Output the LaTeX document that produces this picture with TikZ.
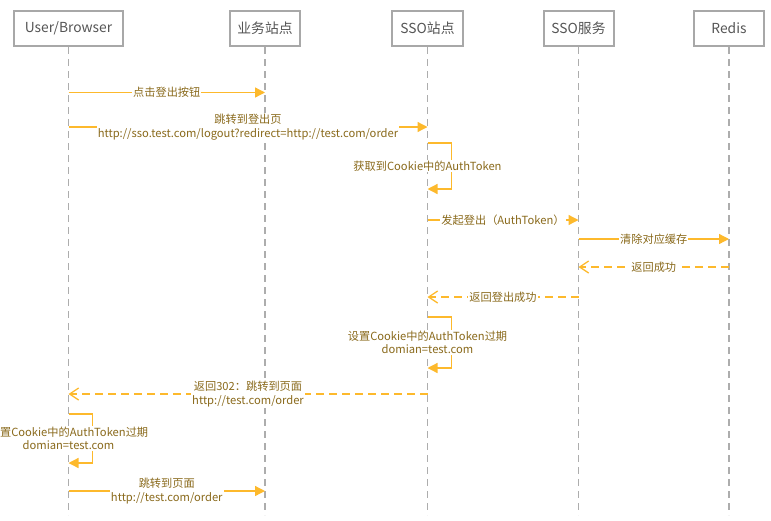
\documentclass[tikz,border=0pt]{standalone}
\usepackage{fontspec}
\setmainfont{Noto Sans CJK SC}
\usetikzlibrary{arrows.meta}
\definecolor{cmsg}{HTML}{FDB92C}
\definecolor{ctxt}{HTML}{8A6A1C}
\definecolor{cbox}{HTML}{A8A8A8}
\definecolor{clif}{HTML}{ADADAD}
\definecolor{chd}{HTML}{555555}
\tikzset{>={Triangle[length=10pt, width=10pt]},
    hd/.style={draw=cbox, line width=2pt, fill=white, text=chd, minimum height=35pt, inner sep=0pt, font=\fontsize{13.8}{16}\selectfont},
    lf/.style={draw=clif, line width=1.2pt, dash pattern=on 7pt off 5pt},
    msg/.style={draw=cmsg, line width=1.3pt, ->},
    ret/.style={draw=cmsg, line width=1.3pt, dash pattern=on 8pt off 5pt, -{Straight Barb[length=9pt, width=12pt]}},
    lbl/.style={fill=white, text=ctxt, inner sep=1pt, align=center, font=\fontsize{11.2}{13.4}\selectfont}}

\begin{document}
\begin{tikzpicture}[x=1pt, y=-1pt]
    \useasboundingbox (0, 0) rectangle (771, 520);
    \node[hd, minimum width=109pt](ub) at (68.5, 28.5){User/Browser};
    \node[hd, minimum width=70pt](ws) at (265, 28.5){业务站点};
    \node[hd, minimum width=71pt](ss) at (427.5, 28.5){SSO站点};
    \node[hd, minimum width=70pt](sv) at (578.5, 28.5){SSO服务};
    \node[hd, minimum width=70pt](rd) at (729, 28.5){Redis};
    \coordinate (bot) at (0, 515);
    \foreach \n in {ub, ws, ss, sv, rd}
        \draw[lf](\n.south)--(\n.south |- bot);
    \foreach \i/\y in {1/92.5, 2/127, 3a/143, 3b/189, 4/220, 5/239, 6/267, 7/297, 8a/317, 8b/368, 9/394, 10a/414, 10b/463, 11/491}
        \coordinate (m\i) at (0, \y);
    \draw[msg](ub |- m1)--(ws |- m1)node[lbl, midway]{点击登出按钮};
    \draw[msg](ub |- m2)--(ss |- m2)node[lbl, midway]{跳转到登出页\\http://sso.test.com/logout?redirect=http://test.com/order};
    \draw[msg](ss |- m3a)--++(24, 0)|-(ss |- m3b);
    \path(ss |- m3a)--(ss |- m3b)node[lbl, midway]{获取到Cookie中的AuthToken};
    \draw[msg](ss |- m4)--(sv |- m4)node[lbl, midway]{发起登出（AuthToken）};
    \draw[msg](sv |- m5)--(rd |- m5)node[lbl, midway]{清除对应缓存};
    \draw[ret](rd |- m6)--(sv |- m6)node[lbl, midway]{返回成功};
    \draw[ret](sv |- m7)--(ss |- m7)node[lbl, midway]{返回登出成功};
    \draw[msg](ss |- m8a)--++(24, 0)|-(ss |- m8b);
    \path(ss |- m8a)--(ss |- m8b)node[lbl, midway]{设置Cookie中的AuthToken过期\\domian=test.com};
    \draw[ret](ss |- m9)--(ub |- m9)node[lbl, midway]{返回302：跳转到页面\\http://test.com/order};
    \draw[msg](ub |- m10a)--++(24, 0)|-(ub |- m10b);
    \path(ub |- m10a)--(ub |- m10b)node[lbl, midway]{设置Cookie中的AuthToken过期\\domian=test.com};
    \draw[msg](ub |- m11)--(ws |- m11)node[lbl, midway]{跳转到页面\\http://test.com/order};
\end{tikzpicture}
\end{document}
